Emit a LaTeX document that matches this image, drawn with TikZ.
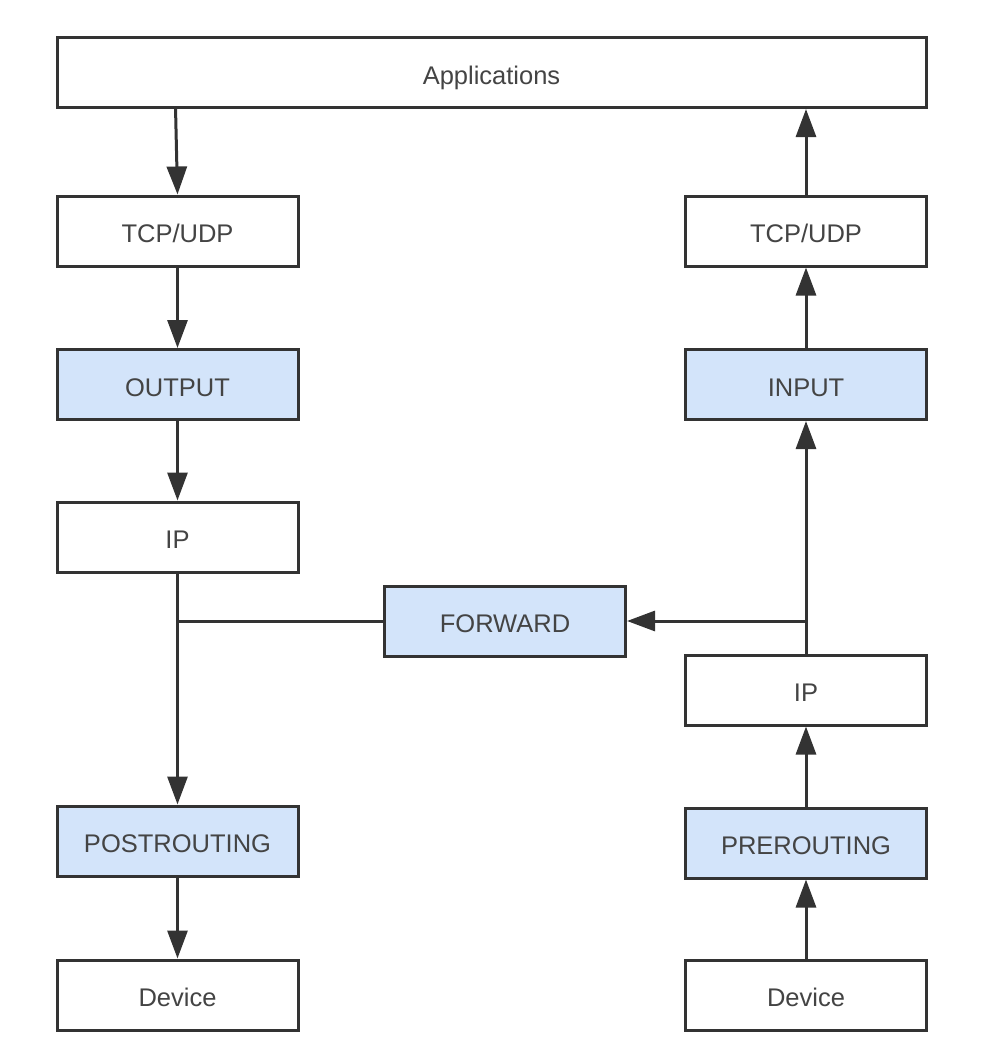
\documentclass[tikz,border=0pt]{standalone}
\usepackage{fontspec}
\setmainfont{Liberation Sans}
\usetikzlibrary{arrows.meta}
\definecolor{edge}{HTML}{333333}
\definecolor{ink}{HTML}{444444}
\definecolor{hook}{HTML}{D3E4FA}
\begin{document}
\begin{tikzpicture}[x=1pt,y=-1pt,
  box/.style={draw=edge, line width=3pt, fill=white, minimum width=241pt,
    minimum height=70pt, inner sep=0pt, text height=23.3pt, text depth=0pt,
    text=ink, font=\fontsize{25.5}{30}\selectfont},
  hookbox/.style={box, fill=hook},
  flow/.style={draw=edge, line width=3pt, -{Triangle[length=28pt,width=20pt]}},
  link/.style={draw=edge, line width=3pt}]
\useasboundingbox (0,0) rectangle (988,1050);
% top layer
\node[box, minimum width=869pt] (app) at (491.5,72.5) {Applications};
% outgoing (local) path
\node[box]     (tcpL)  at (177.5,231) {TCP/UDP};
\node[hookbox] (out)   at (177.5,384.5) {OUTPUT};
\node[box]     (ipL)   at (177.5,537) {IP};
\node[hookbox] (post)  at (177.5,841) {POSTROUTING};
\node[box]     (devL)  at (177.5,995) {Device};
% incoming path
\node[box]     (tcpR)  at (806,231) {TCP/UDP};
\node[hookbox] (in)    at (806,384.5) {INPUT};
\node[box]     (ipR)   at (806,690) {IP};
\node[hookbox] (pre)   at (806,843) {PREROUTING};
\node[box]     (devR)  at (806,995) {Device};
% forwarding hook
\node[hookbox] (fwd)   at (505,621) {FORWARD};
% junctions
\coordinate (appout) at (175.5,107);
\coordinate (jL) at (177.5,621);
\coordinate (jR) at (806,621);
% connectors
\draw[flow] (appout) -- (tcpL.north);
\draw[flow] (tcpL) -- (out);
\draw[flow] (out) -- (ipL);
\draw[flow] (ipL.south) -- (post.north);
\draw[flow] (post) -- (devL);
\draw[flow] (devR) -- (pre);
\draw[flow] (pre) -- (ipR);
\draw[flow] (ipR.north) -- (in.south);
\draw[flow] (in) -- (tcpR);
\draw[flow] (tcpR.north) -- (tcpR.north |- app.south);
\draw[flow] (jR) -- (fwd.east);
\draw[link] (fwd.west) -- (jL);
\end{tikzpicture}
\end{document}
